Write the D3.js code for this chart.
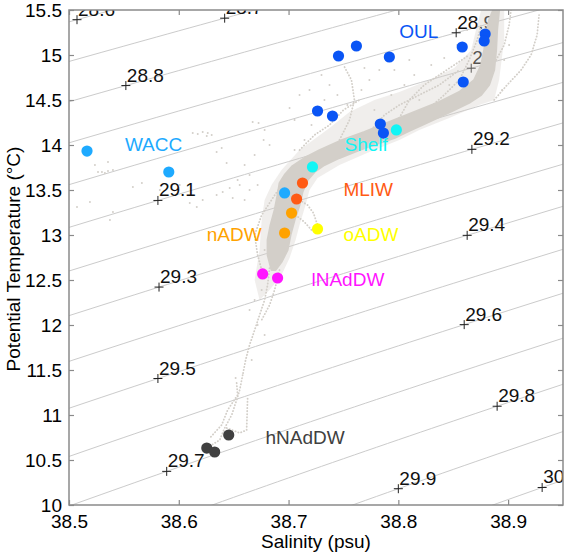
<!DOCTYPE html>
<html><head><meta charset="utf-8">
<script src="https://cdn.jsdelivr.net/npm/d3@7"></script>
<style>
body{margin:0;background:#fff;}
text{font-family:"Liberation Sans",Arial,Helvetica,sans-serif;}
</style>
</head><body>
<svg id="chart" width="566" height="555"></svg>
<script>
// ---------------- DATA ----------------
const xTicks = [38.5, 38.6, 38.7, 38.8, 38.9];
const yTicks = [10, 10.5, 11, 11.5, 12, 12.5, 13, 13.5, 14, 14.5, 15, 15.5];
const sigmaLevels = [28.3, 28.4, 28.5, 28.6, 28.7, 28.8, 28.9, 29.0, 29.1, 29.2, 29.3, 29.4, 29.5, 29.6, 29.7, 29.8, 29.9, 30.0, 30.1, 30.2];
// contour labels: [sigma level, salinity where the "+" sits]
const contourLabels = [
  [28.6, 38.5073], [28.7, 38.6418], [28.8, 38.5518], [28.9, 38.8527], [29.0, 38.8664],
  [29.1, 38.581], [29.2, 38.867], [29.3, 38.582], [29.4, 38.8627], [29.5, 38.581],
  [29.6, 38.86], [29.7, 38.589], [29.8, 38.89], [29.9, 38.80], [30.0, 38.931]
];

// water-mass points [salinity, potential temperature]
const oulPoints = [[38.7455,14.989],[38.7618,15.1],[38.7918,14.978],[38.7264,14.378],[38.74,14.322],
                   [38.7836,14.233],[38.7864,14.133],[38.8582,15.089],[38.8791,15.233],[38.8782,15.156],[38.8591,14.7]];
const waccPoints = [[38.5164,13.933],[38.5909,13.7],[38.6964,13.467]];
const shelfPoints = [[38.7982,14.167],[38.7218,13.756]];
const mliwPoints = [[38.7127,13.578],[38.7073,13.4]];
const nadwPoints = [[38.7027,13.244],[38.6964,13.022]];
const oadwPoints = [[38.7264,13.067]];
const lnaddwPoints = [[38.6764,12.567],[38.69,12.522]];
const hnaddwPoints = [[38.6255,10.633],[38.6327,10.589],[38.6455,10.778]];
const massNames = ["OUL","WACC","Shelf","MLIW","nADW","oADW","lNAdDW","hNAdDW"];
const massPoints = [oulPoints, waccPoints, shelfPoints, mliwPoints, nadwPoints, oadwPoints, lnaddwPoints, hnaddwPoints];

// CTD cloud: dense core outline, sparser halo outline, profile tracks, isolated samples [S, T]
const cloudCore = [[38.6845,12.611],[38.6809,12.778],[38.6809,12.944],[38.6836,13.111],[38.6873,13.278],[38.69,13.444],
  [38.6918,13.578],[38.6964,13.667],[38.7036,13.767],[38.7145,13.856],[38.7282,13.944],[38.7464,14.044],[38.7691,14.144],
  [38.8009,14.3],[38.8191,14.389],[38.8373,14.478],[38.8555,14.589],[38.8691,14.722],[38.8755,14.889],[38.8782,15.056],
  [38.88,15.222],[38.8827,15.389],[38.8864,15.5],[38.8918,15.5],[38.89,15.278],[38.8891,15.056],[38.8873,14.833],
  [38.8827,14.667],[38.8755,14.556],[38.8645,14.467],[38.8509,14.389],[38.8373,14.311],[38.8236,14.233],[38.81,14.156],
  [38.7964,14.078],[38.7827,14.022],[38.7645,13.944],[38.7464,13.856],[38.7327,13.778],[38.7236,13.7],[38.7173,13.611],
  [38.7127,13.478],[38.71,13.333],[38.7055,13.167],[38.7018,13.0],[38.6991,12.833],[38.6936,12.7],[38.6882,12.611]];
const cloudHalo = [[38.6936,13.722],[38.71,13.944],[38.7373,14.189],[38.7555,14.367],[38.7782,14.5],[38.8009,14.589],
  [38.8282,14.722],[38.8509,14.856],[38.8664,15.056],[38.8718,15.333],[38.8755,15.5],[38.8964,15.5],[38.8964,15.167],
  [38.8918,14.722],[38.8873,14.5],[38.8736,14.444],[38.8464,14.3],[38.8191,14.167],[38.8009,14.056],[38.7736,13.922],
  [38.7464,13.778],[38.7264,13.633],[38.7191,13.5],[38.7155,13.333],[38.71,13.111],[38.7064,12.944],[38.7009,12.744],
  [38.6936,12.556],[38.6827,12.389],[38.6736,12.278],[38.6691,12.5],[38.6736,12.833],[38.6755,13.167],[38.6782,13.389],[38.6845,13.556]];
const cloudTracks = [
  [[38.71,13.944],[38.7236,14.111],[38.7373,14.222],[38.75,14.389],[38.7645,14.5]],
  [[38.7464,14.056],[38.7555,14.278],[38.76,14.5],[38.7573,14.722],[38.75,14.889]],
  [[38.7736,14.144],[38.7873,14.333],[38.8009,14.444],[38.8191,14.556],[38.8373,14.667],[38.8555,14.833]],
  [[38.8009,14.3],[38.81,14.5],[38.8236,14.667],[38.8373,14.778],[38.8509,14.889],[38.8645,15.0]],
  [[38.8282,14.411],[38.8418,14.556],[38.8555,14.722],[38.8645,14.944],[38.8718,15.167],[38.8755,15.333]],
  [[38.8873,14.5],[38.8991,14.667],[38.9118,14.833],[38.9209,15.0],[38.9264,15.222],[38.9282,15.444]],
  [[38.8891,14.944],[38.8964,15.111],[38.9009,15.333],[38.9027,15.5]],
  [[38.6936,13.556],[38.6845,13.389],[38.6755,13.222],[38.6691,13.0],[38.6718,12.778],[38.6755,12.611]],
  [[38.71,13.389],[38.7173,13.333],[38.7227,13.244],[38.7264,13.111]],
  [[38.7064,13.222],[38.7145,13.144],[38.7209,13.056],[38.7264,13.033]],
  [[38.6827,12.633],[38.6809,12.444],[38.6782,12.278],[38.6736,12.111],[38.6691,11.944],[38.6645,11.778],[38.6609,11.611],[38.6582,11.444]],
  [[38.6918,12.611],[38.6873,12.389],[38.6827,12.222],[38.6755,12.056]],
  [[38.6582,11.444],[38.6555,11.278],[38.6527,11.167],[38.6482,11.0],[38.6418,10.856],[38.6373,10.722],[38.6255,10.633]],
  [[38.6527,11.356],[38.6536,11.222],[38.6445,11.056],[38.6391,10.889],[38.6282,10.744]],
  [[38.6436,10.856],[38.6555,10.8],[38.6618,10.833],[38.6627,11.189]]
];
const cloudSamples = [[38.5264,13.7],[38.53,13.7],[38.5327,13.689],[38.5355,13.711],[38.5355,13.811],[38.54,13.722],[38.5236,13.778],
  [38.6127,14.133],[38.6173,14.122],[38.6218,14.144],[38.6264,14.133],[38.63,14.111],[38.6345,13.922],[38.6391,13.967],[38.6436,13.8],
  [38.6673,14.256],[38.6727,14.244],[38.6773,14.056],[38.6782,14.167],[38.6827,14.0],[38.6691,13.889],[38.66,13.778],[38.6645,13.667],
  [38.6536,13.611],[38.5582,13.533],[38.5664,13.578],[38.5827,13.5],[38.6009,13.556],[38.5073,13.311],[38.5191,13.367],[38.54,13.256],
  [38.5373,13.167],[38.61,13.356],[38.6164,13.311],[38.6218,13.389],[38.6345,13.444],[38.64,13.478],[38.6464,13.522],[38.6555,13.556],
  [38.6645,13.5],[38.6718,13.556],[38.6491,13.411],[38.66,13.389],[38.6255,14.1],[38.7009,14.411],[38.7055,14.278],[38.71,14.556],
  [38.7191,14.611],[38.6782,12.833],[38.6718,12.944],[38.6755,12.389],[38.6691,12.278],[38.6645,12.167],[38.6718,12.0],[38.6782,11.889],
  [38.6664,11.611],[38.6518,11.411],
  [38.7327,14.5],[38.7373,14.667],[38.73,14.778],[38.7445,14.556],[38.7536,14.444],[38.7664,14.611],[38.7736,14.722],[38.7782,14.389],
  [38.7936,14.556],[38.8055,14.667],[38.8145,14.778],[38.83,14.889],[38.8418,14.967],[38.8536,15.111],[38.8627,15.278],[38.8664,15.389],
  [38.7827,14.833],[38.7964,14.833],[38.81,14.944],[38.7691,14.856],[38.7209,14.222],[38.7145,14.056],[38.7055,13.944],[38.8191,14.5],
  [38.8464,14.667],[38.86,14.556],[38.8718,14.778],[38.8964,14.944],[38.9009,15.111],[38.8945,14.611]];

// ---------------- LAYOUT / STYLE ----------------
const W = 566, H = 555;
const plot = {left: 69, right: 563, top: 10, bottom: 505};
const massColors = ["#0a55f5","#1eaaff","#11f5f5","#ff5a14","#ffa200","#ffff00","#ff14ff","#404040"];
const massLabelAt = [[38.8009,15.19],[38.5509,13.935],[38.751,13.935],[38.75,13.435],[38.6255,12.935],[38.75,12.935],[38.7209,12.435],[38.679,10.68]];
const cloudColor = "#d3cfc9";
const isoShift = 0.0095; // small calibration of drawn isopycnals to the reference figure

const x = d3.scaleLinear().domain([38.5, 38.95]).range([plot.left, plot.right]);
const y = d3.scaleLinear().domain([10, 15.5]).range([plot.bottom, plot.top]);

// UNESCO EOS-80 surface density anomaly
function sigma0(S, T) {
  const rw = 999.842594 + 6.793952e-2*T - 9.095290e-3*T*T + 1.001685e-4*T**3 - 1.120083e-6*T**4 + 6.536332e-9*T**5;
  const A = 0.824493 - 4.0899e-3*T + 7.6438e-5*T*T - 8.2467e-7*T**3 + 5.3875e-9*T**4;
  const B = -5.72466e-3 + 1.0227e-4*T - 1.6546e-6*T*T;
  return rw + A*S + B*Math.pow(S,1.5) + 4.8314e-4*S*S - 1000;
}
function tempOnIso(S, sig) {
  let lo = 0, hi = 30;
  for (let i = 0; i < 60; i++) { const m = (lo+hi)/2; if (sigma0(S, m) > sig - isoShift) lo = m; else hi = m; }
  return (lo+hi)/2;
}

const svg = d3.select("#chart");
svg.append("rect").attr("width", W).attr("height", H).attr("fill", "#fff");
svg.append("defs").append("clipPath").attr("id","clip")
  .append("rect").attr("x", plot.left).attr("y", plot.top)
  .attr("width", plot.right-plot.left).attr("height", plot.bottom-plot.top);

const g = svg.append("g").attr("clip-path","url(#clip)");

// isopycnals
const sSamples = d3.range(38.40, 39.05, 0.01);
const line = d3.line().x(d => x(d[0])).y(d => y(d[1]));
g.selectAll("path.iso").data(sigmaLevels).enter().append("path")
  .attr("class","iso")
  .attr("d", lev => line(sSamples.map(s => [s, tempOnIso(s, lev)])))
  .attr("fill","none").attr("stroke","#cbcbcb").attr("stroke-width",1);

// contour labels
contourLabels.forEach(([lev, s]) => {
  const px = x(s), py = y(tempOnIso(s, lev));
  g.append("path").attr("d", `M${px-4.5},${py}H${px+4.5}M${px},${py-4.5}V${py+4.5}`)
    .attr("stroke","#222").attr("stroke-width",1);
  g.append("text").attr("x", px+1).attr("y", py-4).attr("font-size", 19).attr("fill","#111")
    .text(lev.toFixed(1).replace(/\.0$/,""));
});

// CTD cloud
g.append("path").attr("d", line(cloudHalo) + "Z")
  .attr("fill", cloudColor).attr("fill-opacity", 0.35).attr("stroke", "none");
g.append("path").attr("d", line(cloudCore) + "Z")
  .attr("fill", cloudColor).attr("stroke", cloudColor).attr("stroke-width", 2).attr("stroke-linejoin","round");
g.selectAll("path.track").data(cloudTracks).enter().append("path")
  .attr("class","track").attr("d", d => line(d))
  .attr("fill","none").attr("stroke", cloudColor).attr("stroke-width", 1.8)
  .attr("stroke-linecap","round").attr("stroke-dasharray","0.3 2.8");
g.selectAll("circle.sample").data(cloudSamples).enter().append("circle")
  .attr("class","sample").attr("cx", d => x(d[0])).attr("cy", d => y(d[1])).attr("r", 1)
  .attr("fill", cloudColor);

// water mass points
massPoints.forEach((pts, i) => {
  g.selectAll(null).data(pts).enter().append("circle")
    .attr("cx", d => x(d[0])).attr("cy", d => y(d[1])).attr("r", 5.6)
    .attr("fill", massColors[i]);
});
massNames.forEach((n, i) => {
  svg.append("text").attr("x", x(massLabelAt[i][0])).attr("y", y(massLabelAt[i][1]))
    .attr("font-size", 19).attr("fill", massColors[i]).text(n);
});

// axes box and ticks
const axisColor = "#8a8a8a";
svg.append("rect").attr("x", plot.left).attr("y", plot.top)
  .attr("width", plot.right-plot.left).attr("height", plot.bottom-plot.top)
  .attr("fill","none").attr("stroke", axisColor).attr("stroke-width", 1.5);

const xb = svg.append("g").attr("transform", `translate(0,${plot.bottom})`)
  .call(d3.axisBottom(x).tickValues(xTicks).tickSize(-5).tickPadding(10).tickFormat(d3.format(".1f")));
const xt = svg.append("g").attr("transform", `translate(0,${plot.top})`)
  .call(d3.axisTop(x).tickValues(xTicks).tickSize(-5).tickFormat(""));
const yl = svg.append("g").attr("transform", `translate(${plot.left},0)`)
  .call(d3.axisLeft(y).tickValues(yTicks).tickSize(-5).tickPadding(7).tickFormat(d => String(d)));
const yr = svg.append("g").attr("transform", `translate(${plot.right},0)`)
  .call(d3.axisRight(y).tickValues(yTicks).tickSize(-5).tickFormat(""));
[xb, xt, yl, yr].forEach(a => {
  a.select(".domain").remove();
  a.selectAll(".tick line").attr("stroke", axisColor).attr("stroke-width", 1.2);
  a.selectAll(".tick text").attr("font-size", 19).attr("fill", "#000")
    .attr("font-family", '"Liberation Sans",Arial,sans-serif');
});
svg.append("text").attr("x", 316).attr("y", 548).attr("text-anchor","middle")
  .attr("font-size", 19).attr("fill","#000").text("Salinity (psu)");
svg.append("text").attr("transform", "translate(20,259) rotate(-90)").attr("text-anchor","middle")
  .attr("font-size", 19).attr("fill","#000").text("Potential Temperature (\u00B0C)");
</script>
</body></html>
